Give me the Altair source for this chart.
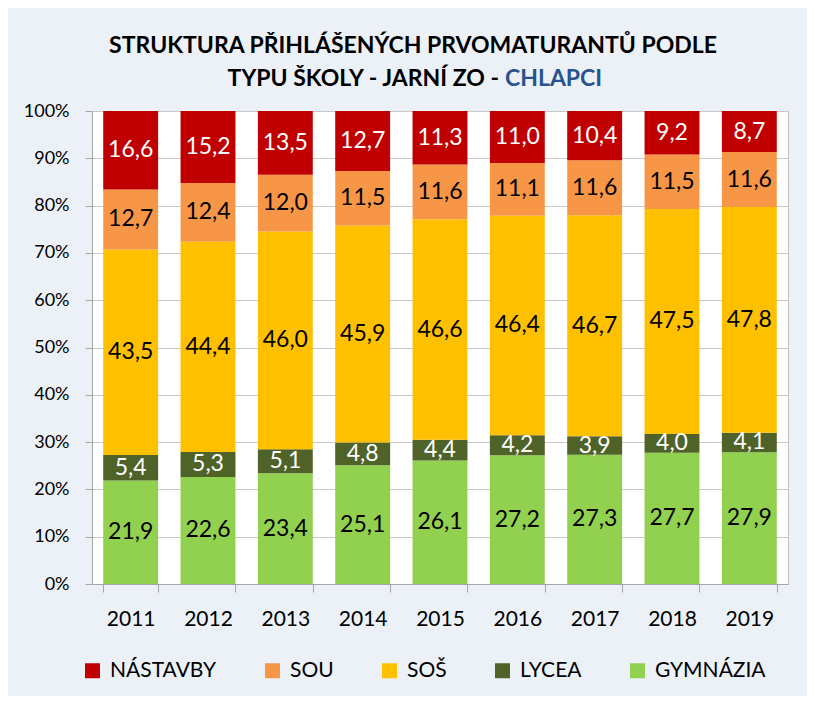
import altair as alt
import pandas as pd

years = ["2011", "2012", "2013", "2014", "2015", "2016", "2017", "2018", "2019"]
series = ["NÁSTAVBY", "SOU", "SOŠ", "LYCEA", "GYMNÁZIA"]
colors = ["#C00000", "#F79646", "#FFC000", "#4F6228", "#92D050"]
text_colors = ["white", "black", "black", "white", "black"]
stack_order = [5, 4, 3, 2, 1]

nastavby = [16.6, 15.2, 13.5, 12.7, 11.3, 11.0, 10.4, 9.2, 8.7]
sou = [12.7, 12.4, 12.0, 11.5, 11.6, 11.1, 11.6, 11.5, 11.6]
sos = [43.5, 44.4, 46.0, 45.9, 46.6, 46.4, 46.7, 47.5, 47.8]
lycea = [5.4, 5.3, 5.1, 4.8, 4.4, 4.2, 3.9, 4.0, 4.1]
gymnazia = [21.9, 22.6, 23.4, 25.1, 26.1, 27.2, 27.3, 27.7, 27.9]

values = [nastavby, sou, sos, lycea, gymnazia]

rows = []
for s, vals, tc, o in zip(series, values, text_colors, stack_order):
    for y, v in zip(years, vals):
        rows.append({"year": y, "series": s, "v": v, "o": o, "tc": tc,
                     "label": f"{v:.1f}".replace(".", ",")})
df = pd.DataFrame(rows)

W, H = 696, 473
FONT = "Lato"

base = alt.Chart(df).transform_stack(
    stack="v", as_=["y0", "y1"], groupby=["year"],
    sort=[alt.SortField("o", order="ascending")], offset="normalize"
).transform_calculate(mid="(datum.y0 + datum.y1) / 2")

xenc = alt.X("year:N", title=None,
             scale=alt.Scale(paddingInner=0.29, paddingOuter=0.145),
             axis=alt.Axis(labelAngle=0, labelFontSize=21, labelColor="black",
                           tickBand="extent", tickSize=8, tickColor="#A6A6A6",
                           domainColor="#A6A6A6", labelPadding=16, grid=False))

bars = base.mark_bar().encode(
    x=xenc,
    y=alt.Y("y0:Q", title=None, scale=alt.Scale(domain=[0, 1], nice=False),
            axis=alt.Axis(format=".0%", values=[i / 10 for i in range(11)],
                          labelFontSize=18, labelColor="black", tickSize=7,
                          labelPadding=16, tickColor="#A6A6A6",
                          domainColor="#A6A6A6", gridColor="#C8C8C8")),
    y2="y1:Q",
    color=alt.Color("series:N", scale=alt.Scale(domain=series, range=colors),
                    legend=alt.Legend(orient="none", legendX=-10, legendY=549,
                                      direction="horizontal", title=None,
                                      symbolType="square", symbolSize=225,
                                      symbolStrokeWidth=0, labelFontSize=21,
                                      labelColor="black", labelOffset=7,
                                      columnPadding=45)),
    order=alt.Order("o:Q"),
)

labels = base.mark_text(fontSize=23, baseline="middle", align="center").encode(
    x=alt.X("year:N"),
    y=alt.Y("mid:Q"),
    text="label:N",
    color=alt.Color("tc:N", scale=None),
)

t1 = alt.Chart(pd.DataFrame({"t": ["STRUKTURA PŘIHLÁŠENÝCH PRVOMATURANTŮ PODLE"]})).mark_text(
    fontSize=23, fontWeight="bold", align="center", baseline="alphabetic", color="black"
).encode(x=alt.value(321), y=alt.value(-58), text="t:N")

t2a = alt.Chart(pd.DataFrame({"t": ["TYPU ŠKOLY - JARNÍ ZO -"]})).mark_text(
    fontSize=23, fontWeight="bold", align="right", baseline="alphabetic", color="black"
).encode(x=alt.value(407), y=alt.value(-25), text="t:N")

t2b = alt.Chart(pd.DataFrame({"t": ["CHLAPCI"]})).mark_text(
    fontSize=23, fontWeight="bold", align="left", baseline="alphabetic", color="#27538F"
).encode(x=alt.value(413), y=alt.value(-25), text="t:N")

chart = alt.layer(bars, labels, t1, t2a, t2b).properties(
    width=W, height=H,
    autosize=alt.AutoSizeParams(type="none"),
    padding={"left": 84, "top": 103, "right": 19, "bottom": 112},
    background="#ECF1F8",
).configure(font=FONT).configure_view(fill="white", stroke="#BFBFBF")

chart.save("out.html", embed_options={"renderer": "svg", "actions": False})
